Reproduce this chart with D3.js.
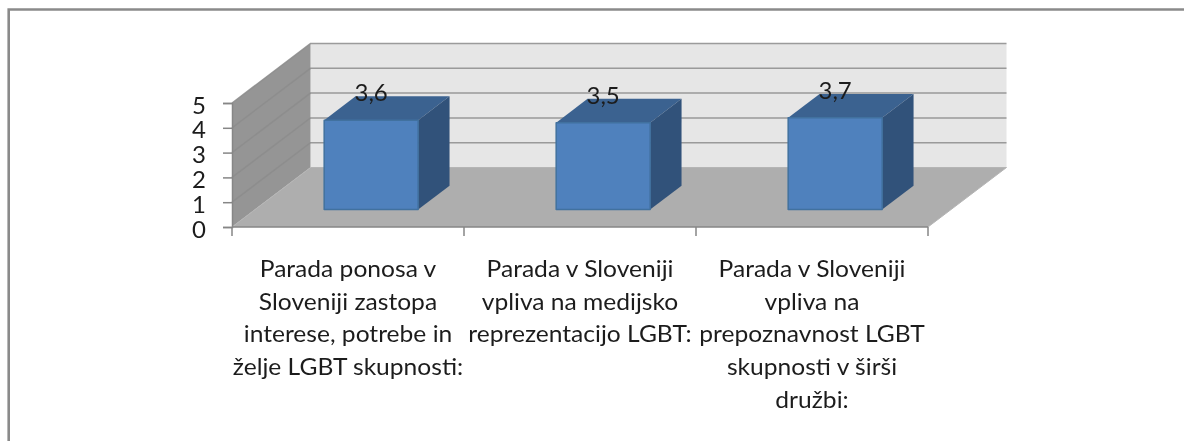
<!DOCTYPE html>
<html>
<head>
<meta charset="utf-8">
<title>Parada ponosa</title>
<script src="https://d3js.org/d3.v7.min.js"></script>
<style>
html, body { margin: 0; padding: 0; background: #fff; overflow: hidden; }
svg { display: block; filter: blur(0.5px); }
text { font-family: Lato, "Open Sans", sans-serif; fill: #1c1c1c; }
</style>
</head>
<body>
<div id="chart"></div>
<script>
var categories = [
    "Parada ponosa v Sloveniji zastopa interese, potrebe in želje LGBT skupnosti:",
    "Parada v Sloveniji vpliva na medijsko reprezentacijo LGBT:",
    "Parada v Sloveniji vpliva na prepoznavnost LGBT skupnosti v širši družbi:"
];
var categoryLines = [
    ["Parada ponosa v", "Sloveniji zastopa", "interese, potrebe in", "želje LGBT skupnosti:"],
    ["Parada v Sloveniji", "vpliva na medijsko", "reprezentacijo LGBT:"],
    ["Parada v Sloveniji", "vpliva na", "prepoznavnost LGBT", "skupnosti v širši", "družbi:"]
];
var values = [3.6, 3.5, 3.7];
var valueLabels = ["3,6", "3,5", "3,7"];
var yTicks = [0, 1, 2, 3, 4, 5];

var width = 1184, height = 441;

var svg = d3.select("#chart").append("svg")
    .attr("width", width)
    .attr("height", height);

// the frame runs off the right and bottom of the picture
svg.append("path")
    .attr("d", "M8.7,441V9.5H1184")
    .attr("fill", "none")
    .attr("stroke", "#8a8a8a")
    .attr("stroke-width", 2.6);

var xs = d3.scaleBand().domain(categories).range([232, 928]).paddingInner(0.595).paddingOuter(0.2975);
var ys = d3.scaleLinear().domain([0, 5]).range([227, 103]);
// depth: 0 front of the floor, 1 back wall
var zx = d3.scaleLinear().domain([0, 1]).range([0, 78.5]);
var zy = d3.scaleLinear().domain([0, 1]).range([0, -59.5]);

var line = d3.line();
function pt(x, v, z) { return [x + zx(z), ys(v) + zy(z)]; }
function poly(points, fill, stroke, sw) {
    return svg.append("path")
        .attr("d", line(points) + "Z")
        .attr("fill", fill)
        .attr("stroke", stroke || "none")
        .attr("stroke-width", sw || 0)
        .attr("stroke-linejoin", "round");
}

var x0 = 232, x1 = 928;

// back wall, side wall, floor
poly([pt(x0, 0, 1), pt(x1, 0, 1), pt(x1, 5, 1), pt(x0, 5, 1)], "#e6e6e6");
poly([pt(x0, 0, 0), pt(x0, 0, 1), pt(x0, 5, 1), pt(x0, 5, 0)], "#959595");
poly([pt(x0, 0, 0), pt(x1, 0, 0), pt(x1, 0, 1), pt(x0, 0, 1)], "#aeaeae");

// gridlines
yTicks.forEach(function(t) {
    if (t > 0) {
        svg.append("path")
            .attr("d", line([pt(x0, t, 0), pt(x0, t, 1), pt(x1, t, 1)]))
            .attr("fill", "none")
            .attr("stroke", "#8c8c8c")
            .attr("stroke-width", 1.5)
            .attr("opacity", 0.85);
    }
});
svg.append("path")
    .attr("d", line([pt(x0, 0, 0), pt(x0, 0, 1), pt(x1, 0, 1), pt(x1, 0, 0)]))
    .attr("fill", "none").attr("stroke", "#b5b5b5").attr("stroke-width", 1);

// axes
var yAxis = svg.append("g")
    .attr("transform", "translate(" + x0 + ",0)")
    .call(d3.axisLeft(ys).tickValues(yTicks).tickSize(9).tickPadding(17).tickFormat(d3.format("d")));
yAxis.selectAll("path,line").attr("stroke", "#868686").attr("stroke-width", 1.5);
yAxis.selectAll("text").style("font-size", "24px").attr("dy", "0.42em").attr("fill", "#1c1c1c");

var xBoundaries = d3.range(0, categories.length + 1).map(function(i) { return x0 + i * xs.step(); });
var xAxis = svg.append("g");
xAxis.append("line")
    .attr("x1", x0).attr("x2", x1).attr("y1", ys(0)).attr("y2", ys(0))
    .attr("stroke", "#868686").attr("stroke-width", 1.5);
xAxis.selectAll("line.tick").data(xBoundaries).enter().append("line")
    .attr("class", "tick")
    .attr("x1", function(d) { return d; }).attr("x2", function(d) { return d; })
    .attr("y1", ys(0)).attr("y2", ys(0) + 9)
    .attr("stroke", "#868686").attr("stroke-width", 1.5);

// bars
var zFront = 0.295, zBack = 0.695;
categories.forEach(function(c, i) {
    var l = xs(c), r = l + xs.bandwidth(), v = values[i];
    poly([pt(l, v, zFront), pt(r, v, zFront), pt(r, v, zBack), pt(l, v, zBack)], "#3b6290");
    poly([pt(r, 0, zFront), pt(r, 0, zBack), pt(r, v, zBack), pt(r, v, zFront)], "#31527a");
    poly([pt(l, 0, zFront), pt(r, 0, zFront), pt(r, v, zFront), pt(l, v, zFront)], "#4f81bd", "#41719f", 1.5);
});

// value labels
svg.selectAll("text.val").data(categories).enter().append("text")
    .attr("class", "val")
    .attr("x", function(c) { return xs(c) + xs.bandwidth() / 2 + zx(zFront); })
    .attr("y", function(c, i) { return ys(values[i]) + zy(zFront) - 19; })
    .attr("text-anchor", "middle")
    .style("font-size", "24px")
    .text(function(c, i) { return valueLabels[i]; });

// category labels, a little wider than the font draws them
categories.forEach(function(c, i) {
    var t = svg.append("text")
        .attr("text-anchor", "middle")
        .attr("transform", "translate(" + (xs(c) + xs.bandwidth() / 2) + ",277) scale(1.07,1)")
        .style("font-size", "23px");
    categoryLines[i].forEach(function(s, j) {
        t.append("tspan")
            .attr("x", 0)
            .attr("dy", j === 0 ? 0 : 32.7)
            .text(s);
    });
});
</script>
</body>
</html>
